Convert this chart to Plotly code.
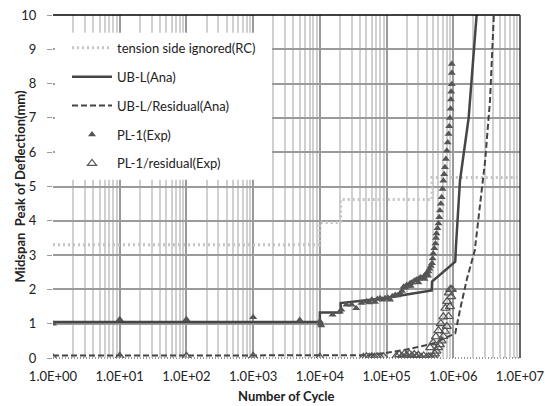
import plotly.graph_objects as go

# ---- data ----
rc_x = [1, 1e4, 1e4, 2.05e4, 2.05e4, 4.8e5, 4.8e5, 1e7]
rc_y = [3.3, 3.3, 3.95, 3.95, 4.62, 4.62, 5.26, 5.26]

ubl_x = [1, 1e4, 1e4, 2.05e4, 2.05e4, 5e4, 1e5, 2e5, 4.75e5, 4.8e5, 1.07e6, 1.1e6, 1.26e6, 1.7e6, 2.3e6]
ubl_y = [1.05, 1.05, 1.33, 1.33, 1.6, 1.68, 1.75, 1.85, 1.97, 2.23, 2.81, 3.3, 5.17, 7.0, 10.3]

ubr_x = [1, 1e4, 5e4, 1e5, 2e5, 5e5, 1.07e6, 1.26e6, 1.6e6, 2.1e6, 3.0e6, 3.55e6, 4.1e6]
ubr_y = [0.07, 0.07, 0.08, 0.15, 0.25, 0.42, 0.72, 1.4, 2.3, 3.14, 5.75, 7.5, 10.2]

pl_x = [1, 10, 100, 1000, 5000, 1e4, 1.02e4, 1.05e4,
        1.55e4, 2.0e4, 2.1e4, 2.5e4, 3.0e4, 3.5e4, 4.2e4, 5e4, 5.5e4, 6e4, 6.7e4,
        7.3e4, 8e4, 8.7e4, 9.5e4, 1.05e5, 1.13e5, 1.22e5, 1.35e5, 1.45e5, 1.6e5,
        1.7e5, 1.8e5, 1.9e5, 2.0e5, 2.1e5, 2.25e5, 2.3e5, 2.4e5, 2.6e5, 2.8e5,
        3.0e5, 3.0e5, 3.2e5, 3.4e5, 3.6e5, 3.7e5, 3.8e5, 4.0e5, 4.2e5, 4.25e5,
        4.4e5, 4.6e5, 4.8e5, 4.9e5, 5.0e5, 5.2e5, 5.4e5, 5.5e5, 5.6e5, 5.8e5,
        6.0e5, 6.15e5, 6.3e5, 6.5e5, 6.7e5, 6.9e5, 7.1e5, 7.3e5, 7.5e5, 7.75e5,
        8.0e5, 8.25e5, 8.5e5, 8.7e5, 8.9e5, 9.1e5, 9.2e5, 9.3e5, 9.5e5, 9.5e5, 9.5e5]
pl_y = [1.0, 1.13, 1.13, 1.19, 1.11, 1.07, 1.0, 0.95,
        1.26, 1.35, 1.41, 1.55, 1.55, 1.45, 1.6, 1.65, 1.62, 1.7, 1.63,
        1.72, 1.74, 1.7, 1.74, 1.76, 1.7, 1.8, 1.84, 1.82, 1.89,
        1.95, 2.08, 2.05, 2.13, 2.1, 2.18, 2.1, 2.2, 2.25, 2.28,
        2.3, 2.2, 2.35, 2.33, 2.37, 2.3, 2.42, 2.48, 2.4, 2.52,
        2.6, 2.68, 2.76, 2.9, 3.05, 3.2, 3.34, 3.5, 3.63, 3.78,
        3.92, 4.1, 4.3, 4.5, 4.69, 4.93, 5.17, 5.36, 5.56, 5.8,
        6.04, 6.28, 6.53, 6.76, 7.0, 7.27, 7.54, 7.76, 7.98, 8.31, 8.57]

plr_x = [1, 10, 100, 1000, 1e4,
         4.5e4, 5.0e4, 5.5e4, 6.0e4, 6.6e4, 7.2e4, 8.0e4, 9.0e4,
         1.4e5, 1.55e5, 1.7e5, 1.85e5, 2.0e5, 2.2e5, 2.4e5, 2.6e5, 2.8e5, 3.0e5,
         3.3e5, 3.6e5, 4.0e5, 4.3e5, 4.6e5, 5.0e5, 5.3e5, 5.6e5, 5.9e5, 6.3e5,
         6.7e5, 7.1e5, 7.5e5, 8.0e5, 8.5e5, 8.9e5, 9.3e5, 9.5e5,
         4.5e5, 5.0e5, 5.5e5, 6.0e5, 6.5e5, 7.1e5, 7.6e5, 8.1e5, 8.6e5, 9.0e5]
plr_y = [0.0, 0.05, 0.05, 0.05, 0.02,
         0.02, 0.04, 0.02, 0.04, 0.02, 0.04, 0.02, 0.04,
         0.05, 0.1, 0.05, 0.12, 0.08, 0.12, 0.06, 0.1, 0.04, 0.08,
         0.02, 0.06, 0.02, 0.04, 0.03, 0.05, 0.12, 0.2, 0.3, 0.39,
         0.5, 0.63, 0.78, 0.92, 1.21, 1.5, 1.79, 2.0,
         0.3, 0.45, 0.62, 0.8, 1.0, 1.2, 1.45, 1.65, 1.9, 2.0]

x_tickvals = [1, 10, 100, 1e3, 1e4, 1e5, 1e6, 1e7]
x_ticktext = ["1.0E+00", "1.0E+01", "1.0E+02", "1.0E+03", "1.0E+04", "1.0E+05", "1.0E+06", "1.0E+07"]

x_title = "Number of Cycle"
y_title = "Midspan  Peak of Deflection(mm)"

DARK = "#454545"
FONT = "Lato"

fig = go.Figure()
fig.add_trace(go.Scatter(x=rc_x, y=rc_y, mode="lines", name="tension side ignored(RC)",
                         legendgroup="a",
                         line=dict(color="#c4c4c4", width=3, dash="2px,3px")))
fig.add_trace(go.Scatter(x=ubl_x, y=ubl_y, mode="lines", name="UB-L(Ana)", legendgroup="b",
                         line=dict(color=DARK, width=2.5)))
fig.add_trace(go.Scatter(x=ubr_x, y=ubr_y, mode="lines", name="UB-L/Residual(Ana)", legendgroup="c",
                         line=dict(color=DARK, width=2, dash="6px,3px")))
fig.add_trace(go.Scatter(x=pl_x, y=pl_y, mode="markers", name="PL-1(Exp)", legendgroup="d",
                         marker=dict(symbol="triangle-up", size=7, color="#555555",
                                     line=dict(width=0))))
fig.add_trace(go.Scatter(x=plr_x, y=plr_y, mode="markers", name="PL-1/residual(Exp)", legendgroup="e",
                         marker=dict(symbol="triangle-up-open", size=8, color="#555555",
                                     line=dict(width=1.2))))

fig.update_layout(
    width=545, height=406,
    margin=dict(l=53, r=25, t=15, b=48),
    paper_bgcolor="white", plot_bgcolor="white",
    font=dict(family=FONT, size=13, color="#222"),
    showlegend=True,
    legend=dict(x=0.03, y=0.948, xanchor="left", yanchor="top",
                bgcolor="white", borderwidth=0, itemwidth=40,
                tracegroupgap=9, font=dict(size=13, color="#222")),
    xaxis=dict(type="log", range=[0, 7], tickvals=x_tickvals, ticktext=x_ticktext,
               automargin=False,
               showgrid=True, gridcolor="#9a9a9a", gridwidth=1.5,
               minor=dict(dtick="D1", showgrid=True, gridcolor="#d0d0d0", gridwidth=1.5),
               zeroline=False, showline=False, ticks="", ticklabelstandoff=9,
               tickfont=dict(size=13, color="#222")),
    yaxis=dict(range=[0, 10], dtick=1, showgrid=True, gridcolor="#9a9a9a", gridwidth=1.5,
               automargin=False,
               zeroline=False, showline=False, ticks="outside", ticklen=5, tickcolor="#9a9a9a",
               ticklabelstandoff=8,
               tickfont=dict(size=13, color="#222")),
)

# axis titles
fig.add_annotation(text="<b>" + x_title + "</b>", xref="paper", yref="paper",
                   x=0.5, y=-0.112, xanchor="center", yanchor="middle", showarrow=False,
                   font=dict(size=13, color="#222"))
fig.add_annotation(text="<b>" + y_title + "</b>", xref="paper", yref="paper",
                   x=-0.0728, y=0.5, xanchor="center", yanchor="middle", showarrow=False,
                   textangle=-90, font=dict(size=13, color="#222"))

# legend background box (covers grid like the reference)
fig.add_shape(type="rect", xref="paper", yref="paper", x0=0.004, x1=0.469, y0=0.52, y1=0.948,
              fillcolor="white", line=dict(width=0), layer="above")

# plot frame
fig.add_shape(type="line", xref="paper", yref="paper", x0=0, x1=1, y0=1, y1=1,
              line=dict(color="black", width=1.5), layer="above")
fig.add_shape(type="line", xref="paper", yref="paper", x0=1, x1=1, y0=0, y1=1,
              line=dict(color="#333", width=1.5), layer="above")
fig.add_shape(type="line", xref="paper", yref="paper", x0=0, x1=1, y0=0, y1=0,
              line=dict(color="#333", width=1, dash="1px,2px"), layer="below")

fig.write_html("out.html")
